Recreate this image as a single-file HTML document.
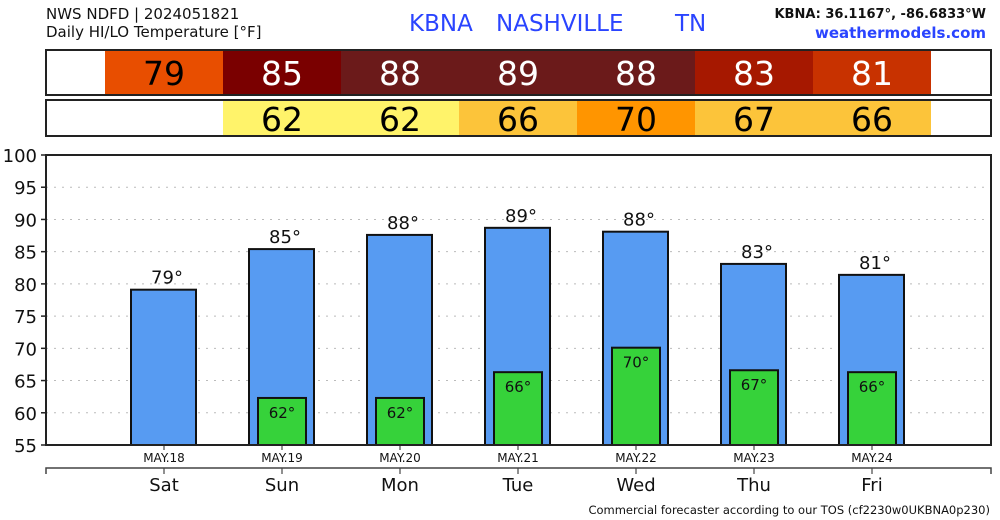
<!DOCTYPE html>
<html><head><meta charset="utf-8">
<style>
body{margin:0;background:#fff;}
svg{display:block;font-family:"DejaVu Sans","Liberation Sans",sans-serif;}
</style></head>
<body>
<svg id="c" width="1000" height="520" viewBox="0 0 1000 520">
<text x="46" y="19" font-size="15" fill="#111">NWS NDFD | 2024051821</text>
<text x="46" y="37" font-size="15" fill="#111">Daily HI/LO Temperature [°F]</text>
<text x="409" y="31" font-size="23" fill="#2a44ff">KBNA</text>
<text x="496" y="31" font-size="23" fill="#2a44ff">NASHVILLE</text>
<text x="675" y="31" font-size="23" fill="#2a44ff">TN</text>
<text x="986" y="18" font-size="13" font-weight="bold" fill="#111" text-anchor="end">KBNA: 36.1167°, -86.6833°W</text>
<text x="986" y="38" font-size="15" font-weight="bold" fill="#2a44ff" text-anchor="end">weathermodels.com</text>
<text x="990" y="514" font-size="11.5" fill="#111" text-anchor="end">Commercial forecaster according to our TOS (cf2230w0UKBNA0p230)</text>
<g id="hdr"></g>
<g id="grid"></g>
<g id="bars"></g>
<g id="axes"></g>
</svg>
<script>
const days=["Sat","Sun","Mon","Tue","Wed","Thu","Fri"];
const dates=["MAY.18","MAY.19","MAY.20","MAY.21","MAY.22","MAY.23","MAY.24"];
const hiVals=[79.1,85.4,87.6,88.7,88.1,83.1,81.4];
const hiLabels=[79,85,88,89,88,83,81];
const loVals=[null,62.3,62.3,66.3,70.1,66.6,66.3];
const loLabels=[null,62,62,66,70,67,66];
const hiColors=["#e84e00","#7a0000","#6b1a1a","#6b1a1a","#6b1a1a","#a61800","#c83200"];
const loColors=[null,"#fff36a","#fff36a","#fcc43a","#ff9500","#fcc43a","#fcc43a"];
const yTicks=[55,60,65,70,75,80,85,90,95,100];
const NS="http://www.w3.org/2000/svg";
function mk(tag,attrs,parent,txt){const e=document.createElementNS(NS,tag);for(const k in attrs)e.setAttribute(k,attrs[k]);if(txt!==undefined)e.textContent=txt;parent.appendChild(e);return e;}
const X0=46,X1=991,Y0=445,Y1=155,ymin=55,ymax=100;
const y=v=>Y0-(v-ymin)/(ymax-ymin)*(Y0-Y1);
const cx=i=>164+i*118;
const hdr=document.getElementById('hdr'),grid=document.getElementById('grid'),bars=document.getElementById('bars'),axes=document.getElementById('axes');
days.forEach((d,i)=>{
  const r=mk('rect',{x:cx(i)-59,y:50,width:118,height:45,fill:hiColors[i]},hdr);
  
  
  const t=mk('text',{x:cx(i),y:85,'font-size':33,'text-anchor':'middle',fill:i==0?'#000':'#fff'},hdr,hiLabels[i]);
  
  
  if(loVals[i]!==null){
    const r2=mk('rect',{x:cx(i)-59,y:100,width:118,height:36,fill:loColors[i]},hdr);
    
    
    const t2=mk('text',{x:cx(i),y:131,'font-size':33,'text-anchor':'middle',fill:'#000'},hdr,loLabels[i]);
    
    
  }
});
const hb=mk('rect',{x:X0,y:50,width:X1-X0,height:45,fill:'none',stroke:'#222','stroke-width':2},hdr);


const lb=mk('rect',{x:X0,y:100,width:X1-X0,height:36,fill:'none',stroke:'#222','stroke-width':2},hdr);


yTicks.forEach(v=>{
  if(v>ymin&&v<ymax){const g=mk('line',{x1:X0,x2:X1,y1:y(v),y2:y(v),stroke:'#bbb','stroke-dasharray':'2,6'},grid);
  
  }
  const tk=mk('line',{x1:X0-5,x2:X0,y1:y(v),y2:y(v),stroke:'#222','stroke-width':1.5},axes);
  
  
  const tl=mk('text',{x:X0-9,y:y(v)+7,'font-size':18,'text-anchor':'end',fill:'#111'},axes,v);
  
  
});
days.forEach((d,i)=>{
  const h=mk('rect',{x:cx(i)-33,y:y(hiVals[i]),width:65,height:Y0-y(hiVals[i]),fill:'#579bf2',stroke:'#111','stroke-width':2},bars);
  
  
  const ht=mk('text',{x:cx(i)+3,y:y(hiVals[i])-6,'font-size':18,'text-anchor':'middle',fill:'#111'},bars,hiLabels[i]+'°');
  
  
  if(loVals[i]!==null){
    const l=mk('rect',{x:cx(i)-24,y:y(loVals[i]),width:48,height:Y0-y(loVals[i]),fill:'#36d23a',stroke:'#111','stroke-width':2},bars);
    
    
    const lt=mk('text',{x:cx(i),y:y(loVals[i])+20,'font-size':15,'text-anchor':'middle',fill:'#111'},bars,loLabels[i]+'°');
    
    
  }
  const dl=mk('text',{x:cx(i),y:462,'font-size':12,'text-anchor':'middle',fill:'#111'},axes,dates[i]);
  
  
  const dt=mk('line',{x1:cx(i),x2:cx(i),y1:445,y2:450,stroke:'#222'},axes);
  
  
  const wt=mk('line',{x1:cx(i),x2:cx(i),y1:468,y2:474,stroke:'#222'},axes);
  
  
  const wl=mk('text',{x:cx(i),y:491,'font-size':18,'text-anchor':'middle',fill:'#111'},axes,d);
  
  
});
const pf=mk('rect',{x:X0,y:Y1,width:X1-X0,height:Y0-Y1,fill:'none',stroke:'#222','stroke-width':2},axes);


const ax2=mk('path',{d:`M${X0} 474V468H${X1}V474`,fill:'none',stroke:'#444','stroke-width':1.5},axes);


</script>
</body></html>
